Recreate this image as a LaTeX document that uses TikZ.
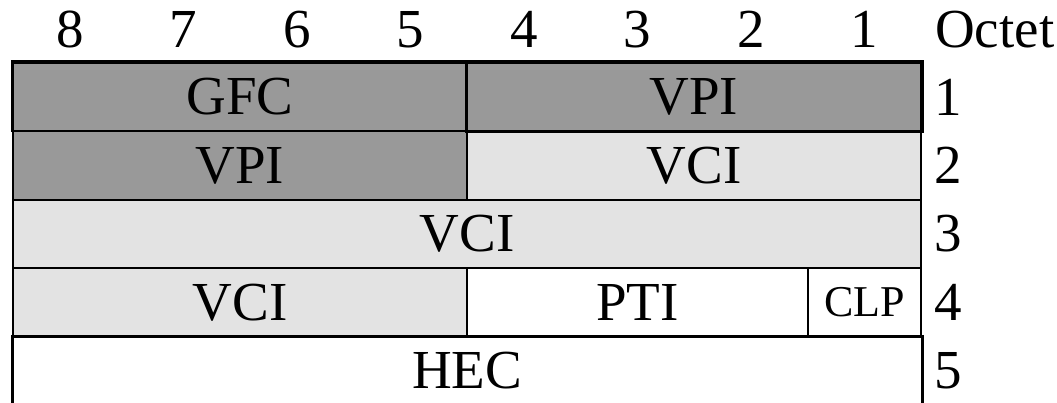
\documentclass[tikz,border=0pt]{standalone}
\usepackage{fontspec}
\setmainfont{Liberation Serif}
\definecolor{darkcell}{HTML}{999999}
\definecolor{lightcell}{HTML}{E3E3E3}
\begin{document}
\begin{tikzpicture}[x=1pt,y=-1pt,
  cell/.style={draw, line width=2pt, inner sep=0pt, font=\fontsize{55}{60}\selectfont},
  dark/.style={fill=darkcell},
  light/.style={fill=lightcell},
  plain/.style={fill=white},
  heavy/.style={line width=3pt, line join=miter},
  label/.style={inner sep=0pt, font=\fontsize{55}{60}\selectfont}]
\useasboundingbox (0,0) rectangle (1057,403);

% bit numbers along the top
\foreach \b [count=\i] in {8,7,6,5,4,3,2,1}
  \node[label, anchor=base] (bit\b) at ({13+113.5*(\i-0.5)},48) {\b};
\node[label, anchor=base west] (octet) at (935,48) {Octet};

% octet 1
\node[cell, dark, minimum width=454pt, minimum height=68pt] (gfc) at (240,97) {GFC};
\node[cell, dark, minimum width=454pt, minimum height=68pt] (vpia) at (694,97) {VPI};
% octet 2
\node[cell, dark, minimum width=454pt, minimum height=69pt] (vpib) at (240,165.5) {VPI};
\node[cell, light, minimum width=454pt, minimum height=69pt] (vcia) at (694,165.5) {VCI};
% octet 3
\node[cell, light, minimum width=908pt, minimum height=68pt] (vcib) at (467,234) {VCI};
% octet 4
\node[cell, light, minimum width=454pt, minimum height=69pt] (vcic) at (240,302.5) {VCI};
\node[cell, plain, minimum width=341pt, minimum height=69pt] (pti) at (637.5,302.5) {PTI};
\node[cell, plain, minimum width=113pt, minimum height=69pt, font=\fontsize{44}{48}\selectfont] (clp) at (864.5,302.5) {CLP};
% octet 5 (open at the bottom)
\node[cell, draw=none, minimum width=908pt, minimum height=68pt] (hec) at (467,371) {HEC};

% heavier outlines
\draw[heavy] (gfc.south west) |- (vpia.north east) -- (vpia.south east) -- (vpia.south west) -- (vpia.north west);
\draw[heavy] (hec.south west) -- (hec.north west) -- (hec.north east) -- (hec.south east);

% octet numbers on the right
\foreach \r/\n in {1/gfc,2/vpib,3/vcib,4/vcic,5/hec}
  \node[label] (row\r) at (948,0 |- \n.center) {\r};
\end{tikzpicture}
\end{document}
